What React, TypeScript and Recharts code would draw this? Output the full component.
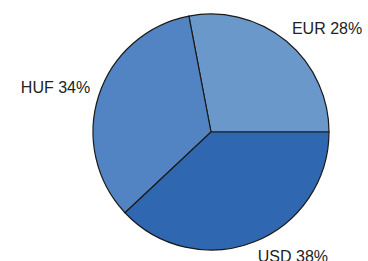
import { PieChart, Pie, Cell } from 'recharts';

const currencies = ['EUR', 'HUF', 'USD'];
const shares = [28, 34, 38];
const sliceColors = ['#6b98cb', '#5283c2', '#2f67b1'];

const data = currencies.map((name, i) => ({ name, value: shares[i] }));

const RADIAN = Math.PI / 180;

// label corner sits just outside the rim: bottom corner above centre, top corner below
function renderLabel(props: any) {
  const { cx, cy, midAngle, outerRadius, name, value } = props;
  const r = outerRadius + 9;
  const x = cx + r * Math.cos(-midAngle * RADIAN);
  const y = cy + r * Math.sin(-midAngle * RADIAN);
  return (
    <text
      x={x}
      y={y}
      dy={y > cy ? '0.72em' : 0}
      fill="#222"
      fontSize={16}
      fontFamily="Liberation Sans"
      textAnchor={x > cx ? 'start' : 'end'}
    >
      {`${name} ${value}%`}
    </text>
  );
}

export default function App() {
  return (
    <div style={{ position: 'fixed', left: 0, top: 0, background: '#fff' }}>
      <PieChart width={368} height={261} margin={{ top: 0, right: 0, bottom: 0, left: 0 }}>
        <Pie
          data={data}
          dataKey="value"
          nameKey="name"
          cx={211}
          cy={132}
          outerRadius={118}
          startAngle={0}
          endAngle={360}
          stroke="#1a1a1a"
          strokeWidth={1.2}
          label={renderLabel}
          labelLine={false}
          isAnimationActive={false}
        >
          {data.map((d, i) => (
            <Cell key={d.name} fill={sliceColors[i]} />
          ))}
        </Pie>
      </PieChart>
    </div>
  );
}
